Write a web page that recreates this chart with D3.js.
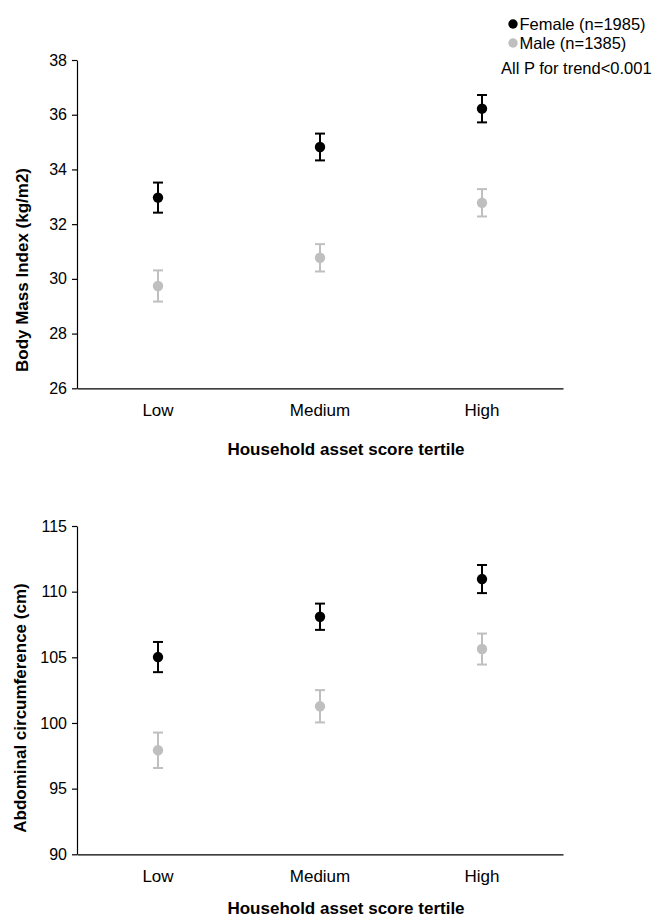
<!DOCTYPE html>
<html>
<head>
<meta charset="utf-8">
<script src="https://cdn.jsdelivr.net/npm/d3@7"></script>
<style>
  html, body { margin: 0; padding: 0; background: #fff; }
  svg { display: block; font-family: "Liberation Sans", Arial, sans-serif; }
</style>
</head>
<body>
<div id="chart"></div>
<script>
// data
var categories = ["Low", "Medium", "High"];

var bmiFemale    = [32.97, 34.82, 36.22];
var bmiFemaleErr = [0.55, 0.49, 0.50];
var bmiMale      = [29.74, 30.77, 32.78];
var bmiMaleErr   = [0.57, 0.50, 0.50];
var bmiTicks     = [26, 28, 30, 32, 34, 36, 38];

var acFemale    = [105.02, 108.09, 110.96];
var acFemaleErr = [1.15, 1.00, 1.07];
var acMale      = [97.92, 101.27, 105.63];
var acMaleErr   = [1.35, 1.23, 1.18];
var acTicks     = [90, 95, 100, 105, 110, 115];

var legendLabels = ["Female (n=1985)", "Male (n=1385)"];
var trendNote = "All P for trend<0.001";
var xTitle = "Household asset score tertile";

// style setting
var width = 657, height = 917;
var female_color = "#000000";
var male_color   = "#bfbfbf";
var text_color   = "#000000";
var dot_r = 5.2;
var cap_w = 5;
var err_width = 2;

var svg = d3.select("#chart").append("svg")
    .attr("width", width)
    .attr("height", height);

var x = d3.scaleBand()
    .domain(categories)
    .range([77, 563]);

function panel(opt) {
  var y = d3.scaleLinear()
      .domain(opt.domain)
      .range([opt.bottom, opt.top]);

  var g = svg.append("g");

  // y axis
  var ya = g.append("g")
      .attr("transform", "translate(" + x.range()[0] + ",0)")
      .call(d3.axisLeft(y).tickValues(opt.ticks).tickSize(5).tickSizeOuter(0).tickPadding(5));
  ya.selectAll("text").style("font-size", "16px").style("fill", text_color);

  // x axis
  var xa = g.append("g")
      .attr("transform", "translate(0," + opt.bottom + ")")
      .call(d3.axisBottom(x).tickSize(0).tickSizeOuter(0).tickPadding(16));
  xa.selectAll("text").style("font-size", "17px").style("fill", text_color);

  g.selectAll(".domain").attr("stroke", "#000").attr("stroke-width", 1.2);
  g.selectAll(".tick line").attr("stroke", "#000").attr("stroke-width", 1.2);

  var series = [
    { vals: opt.male,   err: opt.maleErr,   color: male_color },
    { vals: opt.female, err: opt.femaleErr, color: female_color }
  ];

  series.forEach(function(s) {
    var pts = categories.map(function(c, i) { return { c: c, v: s.vals[i], e: s.err[i] }; });
    var cx = function(d) { return x(d.c) + x.bandwidth() / 2; };

    var eg = g.append("g").attr("stroke", s.color).attr("stroke-width", err_width);
    eg.selectAll("line.bar").data(pts).enter().append("line")
        .attr("x1", cx).attr("x2", cx)
        .attr("y1", function(d) { return y(d.v + d.e); })
        .attr("y2", function(d) { return y(d.v - d.e); });
    eg.selectAll("line.top").data(pts).enter().append("line")
        .attr("x1", function(d) { return cx(d) - cap_w; })
        .attr("x2", function(d) { return cx(d) + cap_w; })
        .attr("y1", function(d) { return y(d.v + d.e); })
        .attr("y2", function(d) { return y(d.v + d.e); });
    eg.selectAll("line.bot").data(pts).enter().append("line")
        .attr("x1", function(d) { return cx(d) - cap_w; })
        .attr("x2", function(d) { return cx(d) + cap_w; })
        .attr("y1", function(d) { return y(d.v - d.e); })
        .attr("y2", function(d) { return y(d.v - d.e); });

    g.append("g").selectAll("circle").data(pts).enter().append("circle")
        .attr("cx", cx)
        .attr("cy", function(d) { return y(d.v); })
        .attr("r", dot_r)
        .attr("fill", s.color);
  });

  // titles
  g.append("text")
      .attr("transform", "translate(" + opt.yTitleX + "," + opt.yTitleY + ") rotate(-90)")
      .attr("text-anchor", "middle")
      .style("font-size", "17px")
      .style("font-weight", "bold")
      .style("fill", text_color)
      .text(opt.yTitle);

  g.append("text")
      .attr("x", 346)
      .attr("y", opt.xTitleY)
      .attr("text-anchor", "middle")
      .style("font-size", "17px")
      .style("font-weight", "bold")
      .style("fill", text_color)
      .text(xTitle);
}

panel({
  domain: [26, 38], ticks: bmiTicks, top: 60, bottom: 388.3,
  female: bmiFemale, femaleErr: bmiFemaleErr, male: bmiMale, maleErr: bmiMaleErr,
  yTitle: "Body Mass Index (kg/m2)", yTitleX: 28, yTitleY: 270, xTitleY: 455
});

panel({
  domain: [90, 115], ticks: acTicks, top: 526, bottom: 854.3,
  female: acFemale, femaleErr: acFemaleErr, male: acMale, maleErr: acMaleErr,
  yTitle: "Abdominal circumference (cm)", yTitleX: 26, yTitleY: 708, xTitleY: 914
});

// legend
var legend = svg.append("g");
var legendColors = [female_color, male_color];
legend.selectAll("circle").data(legendLabels).enter().append("circle")
    .attr("cx", 513)
    .attr("cy", function(d, i) { return 24 + i * 19; })
    .attr("r", 4.7)
    .attr("fill", function(d, i) { return legendColors[i]; });
legend.selectAll("text.lab").data(legendLabels).enter().append("text")
    .attr("x", 519.5)
    .attr("y", function(d, i) { return 29.5 + i * 19; })
    .style("font-size", "16.5px")
    .style("fill", text_color)
    .text(function(d) { return d; });
legend.append("text")
    .attr("x", 501)
    .attr("y", 73.5)
    .style("font-size", "16.5px")
    .style("fill", text_color)
    .text(trendNote);
</script>
</body>
</html>
